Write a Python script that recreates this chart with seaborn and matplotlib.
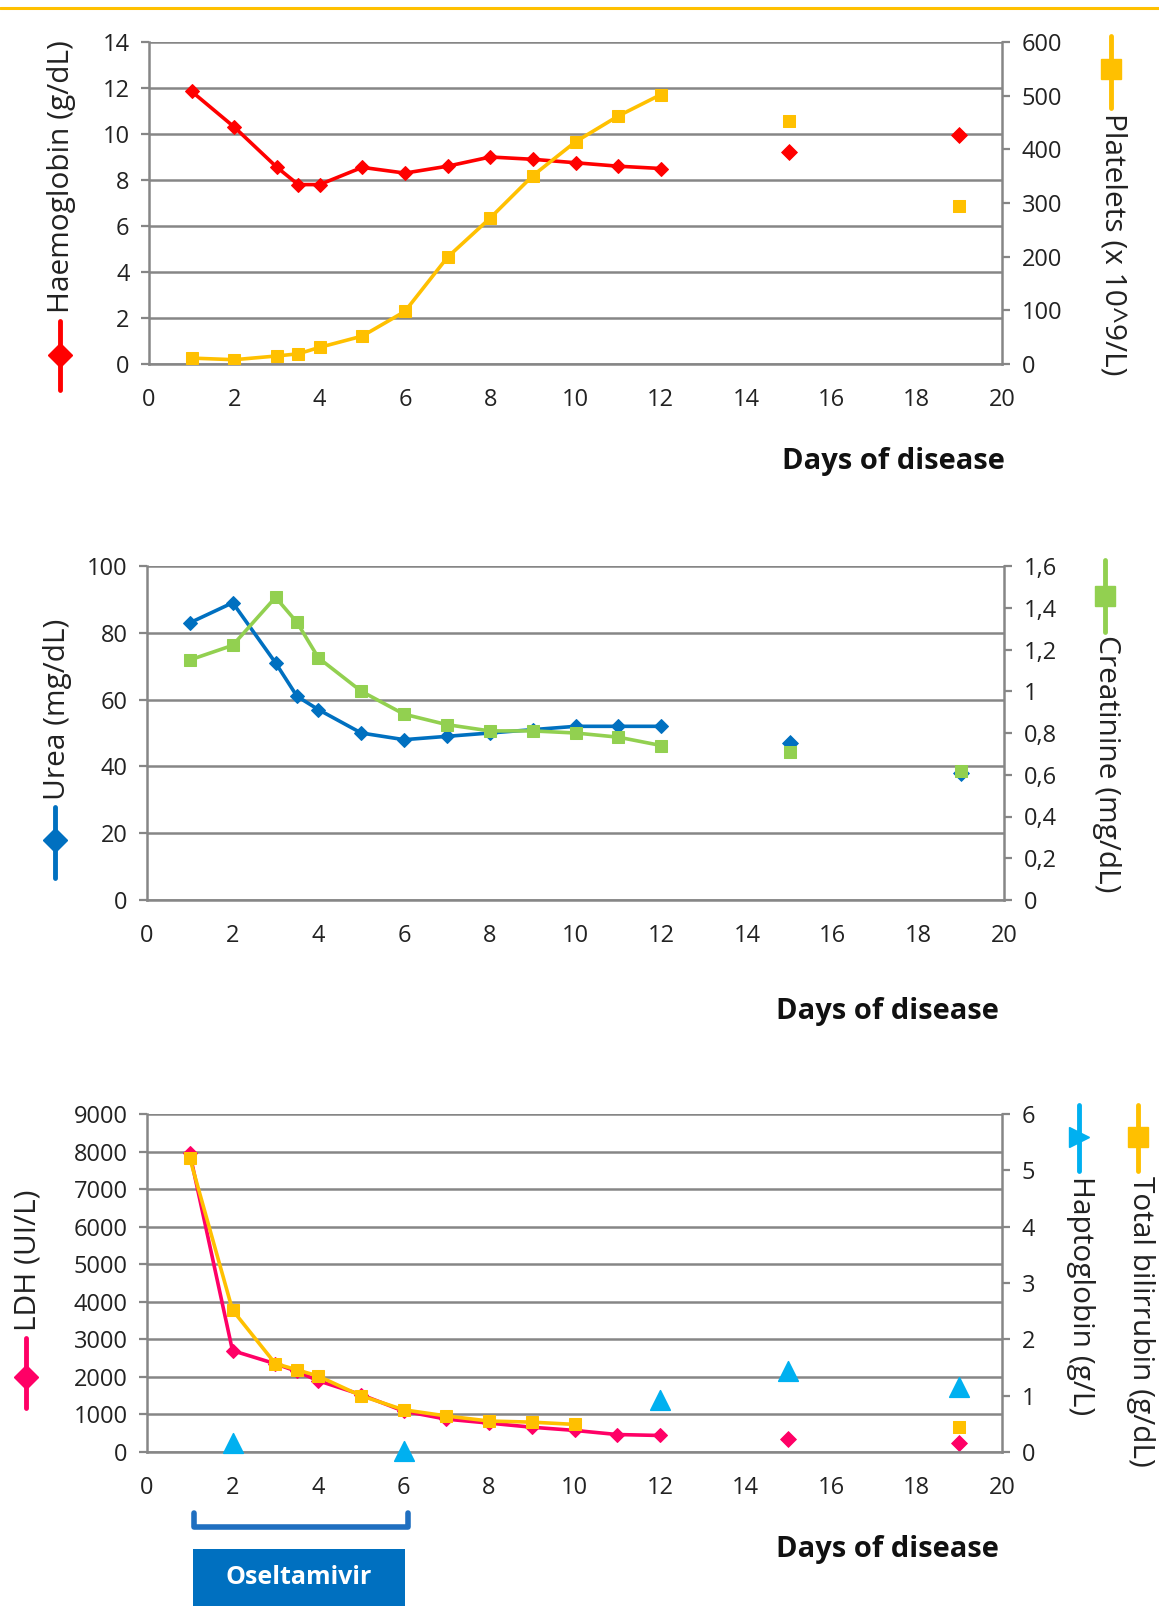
import numpy as np
import matplotlib.pyplot as plt
from matplotlib.lines import Line2D
from matplotlib.patches import Rectangle
from matplotlib.ticker import MultipleLocator, FuncFormatter
import seaborn as sns

sns.set_style('white')
plt.rcParams['font.family'] = ['Open Sans', 'DejaVu Sans']

# dias con linea continua y dias sueltos
days = [1, 2, 3, 3.5, 4, 5, 6, 7, 8, 9, 10, 11, 12]
late_days = [15, 19]

haemoglobin = [11.85, 10.3, 8.55, 7.8, 7.8, 8.55, 8.3, 8.6, 9.0, 8.9, 8.75, 8.6, 8.5]
haemoglobin_late = [9.2, 9.95]
platelets = [11, 8, 15, 19, 31, 52, 98, 199, 272, 351, 414, 462, 502]
platelets_late = [452, 295]

urea = [83, 89, 71, 61, 57, 50, 48, 49, 50, 51, 52, 52, 52]
urea_late = [47, 38]
creatinine = [1.15, 1.22, 1.45, 1.33, 1.16, 1.0, 0.89, 0.84, 0.81, 0.81, 0.8, 0.78, 0.74]
creatinine_late = [0.71, 0.62]

ldh = [7960, 2700, 2350, 2150, 1900, 1530, 1090, 875, 770, 660, 575, 465, 440]
ldh_late = [355, 245]
bili_days = [1, 2, 3, 3.5, 4, 5, 6, 7, 8, 9, 10]
bilirubin = [5.22, 2.52, 1.57, 1.46, 1.35, 1.0, 0.75, 0.64, 0.55, 0.53, 0.49]
bili_late_days = [19]
bilirubin_late = [0.44]
hapto_days = [2, 6, 12, 15, 19]
haptoglobin = [0.16, 0.02, 0.92, 1.43, 1.16]

RED = '#FF0000'
ORANGE = '#FFC000'
BLUE = '#0070C0'
GREEN = '#92D050'
PINK = '#FF0066'
CYAN = '#00B0F0'
GRID = '#868686'

W, H = 1159, 1611
fig = plt.figure(figsize=(W / 100, H / 100), dpi=100)


def fx(px):
    return px / W


def fy(py):
    return 1 - py / H


def make_axes(left, top, right, bottom):
    ax = fig.add_axes([fx(left), fy(bottom), fx(right) - fx(left), fy(top) - fy(bottom)])
    ax2 = ax.twinx()
    return ax, ax2


def style(ax, ax2, ylim, ystep, ylim2, ystep2, comma=False):
    ax.set_xlim(0, 20)
    ax.set_xticks(range(0, 21, 2))
    ax.set_ylim(*ylim)
    ax.yaxis.set_major_locator(MultipleLocator(ystep))
    ax2.set_ylim(*ylim2)
    ax2.yaxis.set_major_locator(MultipleLocator(ystep2))
    if comma:
        ax2.yaxis.set_major_formatter(FuncFormatter(lambda v, p: ('%g' % round(v, 2)).replace('.', ',')))
    ax.grid(axis='y', color=GRID, lw=1.8)
    ax.grid(axis='x', visible=False)
    ax2.grid(False)
    ax.set_axisbelow(True)
    for a in (ax, ax2):
        a.set_xlabel('')
        a.set_ylabel('')
        for s in a.spines.values():
            s.set_color(GRID)
            s.set_linewidth(1.8)
        a.spines['top'].set_visible(False)
        a.tick_params(direction='out', length=6, width=1.6, color=GRID,
                      labelsize=17, labelcolor='#222222', pad=8)
    ax.tick_params(axis='x', pad=11)
    ax.spines['right'].set_visible(False)
    ax2.spines['left'].set_visible(False)
    ax2.spines['bottom'].set_visible(False)


def ylabel(text, x, y_start, key_top, key_bot, key_mark, color, marker, ms, side='left'):
    if side == 'left':
        fig.text(fx(x), fy(y_start), text, rotation=90, ha='center', va='bottom',
                 fontsize=21.5, color='#222222')
    else:
        fig.text(fx(x), fy(y_start), text, rotation=270, ha='center', va='top',
                 fontsize=21.5, color='#222222')
    fig.add_artist(Line2D([fx(x - 2)] * 2, [fy(key_top), fy(key_bot)], transform=fig.transFigure,
                          color=color, lw=3.5, solid_capstyle='round'))
    fig.add_artist(Line2D([fx(x - 2)], [fy(key_mark)], transform=fig.transFigure,
                          color=color, marker=marker, ms=ms, lw=0))


def days_label(px, py):
    fig.text(fx(px), fy(py), 'Days of disease', ha='right', va='center',
             fontsize=21, fontweight='bold', color='#111111')


# linea superior
fig.add_artist(Line2D([0, 1], [fy(8)] * 2, transform=fig.transFigure, color=ORANGE, lw=2.2))

# ---- Grafica 1: hemoglobina y plaquetas
ax1, ax1b = make_axes(149, 42, 1002, 364)
sns.lineplot(x=days, y=haemoglobin, ax=ax1, color=RED, lw=2.6, marker='D', ms=7.5,
             markeredgecolor=RED)
sns.scatterplot(x=late_days, y=haemoglobin_late, ax=ax1, color=RED, marker='D', s=65,
                edgecolor=RED)
sns.lineplot(x=days, y=platelets, ax=ax1b, color=ORANGE, lw=2.6, marker='s', ms=9,
             markeredgecolor=ORANGE)
sns.scatterplot(x=late_days, y=platelets_late, ax=ax1b, color=ORANGE, marker='s', s=85,
                edgecolor=ORANGE)
style(ax1, ax1b, (0, 14), 2, (0, 600), 100)
ylabel('Haemoglobin (g/dL)', 62, 313, 321, 390, 355, RED, 'D', 12)
ylabel('Platelets (x 10^9/L)', 1113, 113, 36, 108, 69, ORANGE, 's', 14, side='right')
days_label(1005, 462)

# ---- Grafica 2: urea y creatinina
ax2, ax2b = make_axes(147, 566, 1004, 900)
sns.lineplot(x=days, y=urea, ax=ax2, color=BLUE, lw=2.6, marker='D', ms=7.5,
             markeredgecolor=BLUE)
sns.scatterplot(x=late_days, y=urea_late, ax=ax2, color=BLUE, marker='D', s=65,
                edgecolor=BLUE)
sns.lineplot(x=days, y=creatinine, ax=ax2b, color=GREEN, lw=2.6, marker='s', ms=9,
             markeredgecolor=GREEN)
sns.scatterplot(x=late_days, y=creatinine_late, ax=ax2b, color=GREEN, marker='s', s=85,
                edgecolor=GREEN)
style(ax2, ax2b, (0, 100), 20, (0, 1.6), 0.2, comma=True)
ylabel('Urea (mg/dL)', 57, 800, 807, 878, 840, BLUE, 'D', 12)
ylabel('Creatinine (mg/dL)', 1107, 635, 560, 632, 596, GREEN, 's', 14, side='right')
days_label(999, 1012)

# ---- Grafica 3: LDH, bilirrubina, haptoglobina
ax3, ax3b = make_axes(147, 1114, 1002, 1452)
sns.lineplot(x=days, y=ldh, ax=ax3, color=PINK, lw=2.6, marker='D', ms=7.5,
             markeredgecolor=PINK)
sns.scatterplot(x=late_days, y=ldh_late, ax=ax3, color=PINK, marker='D', s=65,
                edgecolor=PINK)
sns.lineplot(x=bili_days, y=bilirubin, ax=ax3b, color=ORANGE, lw=2.6, marker='s', ms=9,
             markeredgecolor=ORANGE)
sns.scatterplot(x=bili_late_days, y=bilirubin_late, ax=ax3b, color=ORANGE, marker='s', s=85,
                edgecolor=ORANGE)
sns.scatterplot(x=hapto_days, y=haptoglobin, ax=ax3b, color=CYAN, marker='^', s=200,
                edgecolor=CYAN, clip_on=False, zorder=5)
style(ax3, ax3b, (0, 9000), 1000, (0, 6), 1)
ylabel('LDH (UI/L)', 28, 1331, 1338, 1408, 1377, PINK, 'D', 12)
ylabel('Haptoglobin (g/L)', 1081, 1176, 1105, 1171, 1137, CYAN, '>', 14, side='right')
ylabel('Total bilirrubin (g/dL)', 1140, 1176, 1105, 1171, 1137, ORANGE, 's', 14, side='right')
days_label(999, 1550)

# tratamiento con oseltamivir
tr = ax3.get_xaxis_transform()
ax3.add_artist(Line2D([1.1, 1.1, 6.1, 6.1], [-0.18, -0.222, -0.222, -0.18], transform=tr,
                      color='#1F6FC0', lw=4, clip_on=False, solid_joinstyle='round'))
ax3.add_patch(Rectangle((1.08, -0.456), 4.95, 0.169, transform=tr, facecolor=BLUE,
                        edgecolor='none', clip_on=False))
ax3.text(3.55, -0.372, 'Oseltamivir', transform=tr, ha='center', va='center',
         color='white', fontsize=18, fontweight='bold')

fig.savefig('out.png', dpi=100)
